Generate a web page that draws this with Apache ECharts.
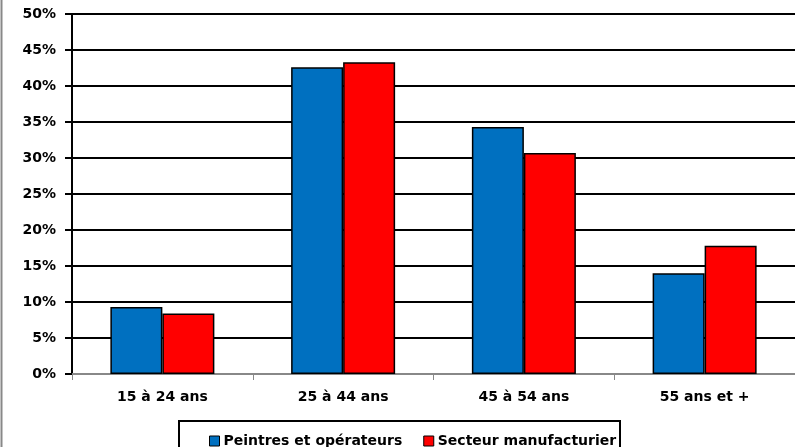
<!DOCTYPE html>
<html><head><meta charset="utf-8">
<script src="https://cdn.jsdelivr.net/npm/echarts@6/dist/echarts.min.js"></script>
<style>html,body{margin:0;padding:0;background:#fff}#c{width:795px;height:447px}</style>
</head><body><div id="c"></div>
<script>
const categories = ['15 à 24 ans', '25 à 44 ans', '45 à 54 ans', '55 ans et +'];
const peintres = [9.3, 42.6, 34.3, 14.0];
const secteur = [8.4, 43.3, 30.7, 17.8];
const seriesNames = ['Peintres et opérateurs', 'Secteur manufacturier'];
const FONT = 'DejaVu Sans';
const chart = echarts.init(document.getElementById('c'), null, {renderer: 'canvas'});
chart.setOption({
  animation: false,
  backgroundColor: '#fff',
  grid: {left: 72, right: 0, top: 14, bottom: 73, containLabel: false},
  graphic: [
    {type: 'line', shape: {x1: 1.5, y1: 0, x2: 1.5, y2: 447}, style: {stroke: '#888', lineWidth: 2}},
    {type: 'rect', shape: {x: 179, y: 421, width: 441, height: 40}, style: {fill: 'none', stroke: '#000', lineWidth: 2}, z: 1}
  ],
  legend: {
    top: 429, left: 204, itemGap: 21, itemWidth: 10, itemHeight: 10, icon: 'rect',
    textStyle: {fontFamily: FONT, fontWeight: 'bold', fontSize: 14, color: '#000', padding: [0, 0, 0, -1]},
    itemStyle: {borderColor: '#000', borderWidth: 1}
  },
  xAxis: {
    type: 'category', data: categories,
    axisLine: {lineStyle: {color: '#888', width: 2}},
    axisTick: {show: true, alignWithLabel: false, length: 6, lineStyle: {color: '#888', width: 1}},
    axisLabel: {fontFamily: FONT, fontWeight: 'bold', fontSize: 14, color: '#000', margin: 16}
  },
  yAxis: {
    type: 'value', min: 0, max: 50, interval: 5,
    axisLine: {show: true, lineStyle: {color: '#000', width: 2}},
    axisTick: {show: true, length: 7, lineStyle: {color: '#000', width: 2}},
    splitLine: {lineStyle: {color: '#000', width: 2}},
    axisLabel: {fontFamily: FONT, fontWeight: 'bold', fontSize: 14, color: '#000', margin: 16, formatter: '{value}%'}
  },
  series: [
    {name: seriesNames[0], type: 'bar', data: peintres, barWidth: 52, barGap: '0%',
     itemStyle: {color: '#0070C0', borderColor: '#000', borderWidth: 1.5}},
    {name: seriesNames[1], type: 'bar', data: secteur, barWidth: 52, barGap: '0%',
     itemStyle: {color: '#FF0000', borderColor: '#000', borderWidth: 1.5}}
  ]
});
</script></body></html>
